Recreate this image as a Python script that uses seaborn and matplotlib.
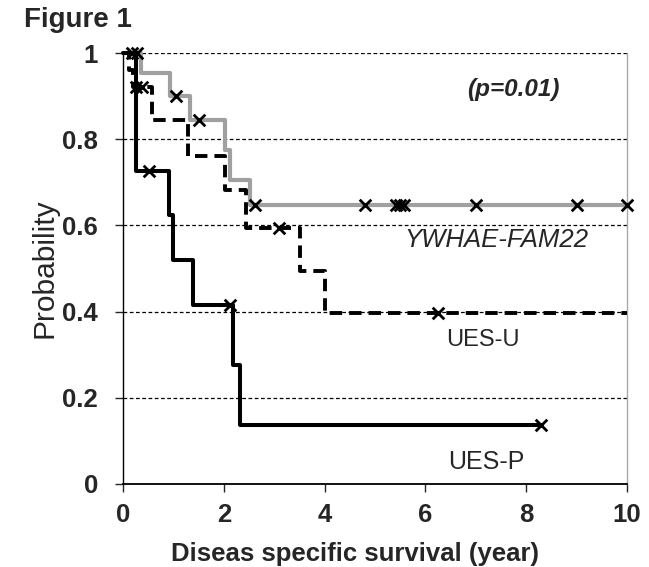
import numpy as np
import pandas as pd
import matplotlib
matplotlib.use("Agg")
import matplotlib.pyplot as plt
import seaborn as sns

# Kaplan-Meier step curves (time in years, survival prob)
fam_times = [0, 0.36, 0.93, 1.33, 2.02, 2.12, 2.52, 10.0]
fam_surv = [1.0, 0.953, 0.90, 0.845, 0.775, 0.705, 0.647, 0.647]
fam_censor = [0.28, 1.05, 1.51, 2.62, 4.8, 5.42, 5.5, 5.58, 7.0, 9.0, 10.0]

uesu_times = [0, 0.12, 0.2, 0.57, 1.29, 2.02, 2.45, 3.51, 4.0, 10.0]
uesu_surv = [1.0, 0.96, 0.92, 0.845, 0.76, 0.682, 0.594, 0.495, 0.396, 0.396]
uesu_censor = [0.25, 0.38, 3.1, 6.25]

uesp_times = [0, 0.25, 0.91, 1.0, 1.39, 2.18, 2.32, 8.3]
uesp_surv = [1.0, 0.727, 0.623, 0.519, 0.415, 0.277, 0.138, 0.138]
uesp_censor = [0.18, 0.52, 2.12, 8.3]

groups = ["YWHAE-FAM22", "UES-U", "UES-P"]

sns.set_style("ticks")
plt.rcParams["font.family"] = ["Liberation Sans", "DejaVu Sans"]


def step_df(times, surv):
    return pd.DataFrame({"time": times, "surv": surv})


def censor_df(times, surv, ctimes):
    # place each censor mark on the curve at that time
    idx = np.searchsorted(times, ctimes, side="right") - 1
    return pd.DataFrame({"time": ctimes, "surv": np.asarray(surv)[idx]})


fig = plt.figure(figsize=(6.49, 5.67), dpi=100)
ax = fig.add_axes([0.1895, 0.1464, 0.7766, 0.7601])

styles = {
    "YWHAE-FAM22": dict(color="#a0a0a0", linestyle="-", lw=3.0),
    "UES-U": dict(color="black", linestyle=(0, (3.2, 1.8)), lw=2.8),
    "UES-P": dict(color="black", linestyle="-", lw=2.9),
}
data = {
    "YWHAE-FAM22": (fam_times, fam_surv, fam_censor),
    "UES-U": (uesu_times, uesu_surv, uesu_censor),
    "UES-P": (uesp_times, uesp_surv, uesp_censor),
}

for name in groups:
    t, s, c = data[name]
    sns.lineplot(data=step_df(t, s), x="time", y="surv", ax=ax,
                 estimator=None, sort=False, drawstyle="steps-post",
                 clip_on=False, zorder=3, **styles[name])

for name in groups:
    t, s, c = data[name]
    sns.scatterplot(data=censor_df(t, s, c), x="time", y="surv", ax=ax,
                    marker="x", color="black", s=70, linewidth=2.0,
                    clip_on=False, zorder=5)

ax.set_xlim(0, 10)
ax.set_ylim(0, 1)
ax.set_xticks([0, 2, 4, 6, 8, 10])
ax.set_yticks([0, 0.2, 0.4, 0.6, 0.8, 1.0])
ax.set_yticklabels(["0", "0.2", "0.4", "0.6", "0.8", "1"])

ax.set_axisbelow(True)
ax.yaxis.grid(True, color="black", linestyle=(0, (3, 2)), linewidth=0.9)

ax.spines["top"].set_visible(False)
ax.spines["left"].set_color("black")
ax.spines["left"].set_linewidth(1.0)
ax.spines["bottom"].set_color("black")
ax.spines["bottom"].set_linewidth(1.3)
ax.spines["right"].set_color("#a8a8a8")
ax.spines["right"].set_linewidth(1.0)

ax.tick_params(axis="y", direction="out", length=6, width=1, pad=12,
               labelsize=18.5)
ax.tick_params(axis="x", direction="out", length=6, width=1, pad=8,
               labelsize=18.5)
for lab in ax.get_xticklabels() + ax.get_yticklabels():
    lab.set_fontweight("bold")

ax.set_xlabel("Diseas specific survival (year)", fontsize=18.5,
              fontweight="bold")
ax.xaxis.set_label_coords(0.46, -0.135)
ax.set_ylabel("Probability", fontsize=21.5)
ax.yaxis.set_label_coords(-0.128, 0.5)

ax.text(7.74, 0.915, "(p=0.01)", fontsize=17.5, style="italic",
        fontweight="bold", ha="center", va="center")
ax.text(7.4, 0.565, "YWHAE-FAM22", fontsize=18.5, style="italic",
        ha="center", va="center")
ax.text(7.14, 0.334, "UES-U", fontsize=17, ha="center", va="center")
ax.text(7.2, 0.05, "UES-P", fontsize=18, ha="center", va="center")

fig.text(0.037, 0.965, "Figure 1", fontsize=20, fontweight="bold",
         ha="left", va="center")

fig.savefig("out.png", dpi=100)
